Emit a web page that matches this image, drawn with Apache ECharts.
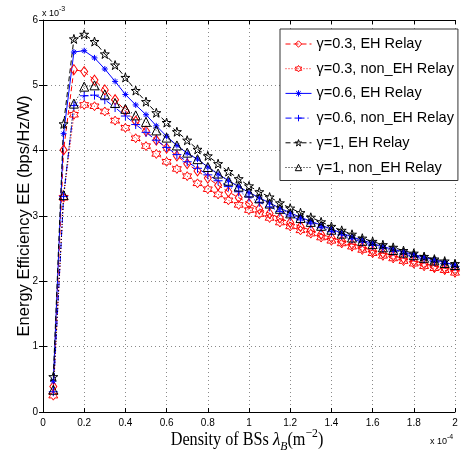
<!DOCTYPE html>
<html><head><meta charset="utf-8">
<script src="https://cdn.jsdelivr.net/npm/echarts@6/dist/echarts.min.js"></script>
<style>html,body{margin:0;padding:0;background:#fff}#c{width:463px;height:452px}</style>
</head><body><div id="c"></div>
<script>
// Density of BSs (x 10^-4 m^-2)
const xs = [0.05,0.10,0.15,0.20,0.25,0.30,0.35,0.40,0.45,0.50,0.55,0.60,0.65,0.70,0.75,0.80,0.85,0.90,0.95,1.00,
            1.05,1.10,1.15,1.20,1.25,1.30,1.35,1.40,1.45,1.50,1.55,1.60,1.65,1.70,1.75,1.80,1.85,1.90,1.95,2.00];
// Energy efficiency (x 10^-3 bps/Hz/W)
const g03_EH    = [0.39,4.01,5.24,5.21,5.08,4.93,4.78,4.61,4.45,4.30,4.16,4.04,3.92,3.80,3.69,3.58,3.47,3.37,3.28,3.19,
                   3.11,3.04,2.97,2.90,2.84,2.78,2.72,2.67,2.62,2.57,2.52,2.47,2.43,2.39,2.35,2.31,2.27,2.23,2.20,2.17];
const g03_nonEH = [0.25,3.28,4.55,4.70,4.68,4.60,4.46,4.35,4.19,4.07,3.95,3.83,3.72,3.61,3.50,3.41,3.33,3.24,3.17,3.09,
                   3.03,2.97,2.90,2.84,2.78,2.73,2.67,2.62,2.58,2.53,2.48,2.43,2.39,2.35,2.31,2.27,2.23,2.20,2.17,2.13];
const g06_EH    = [0.47,4.26,5.51,5.53,5.42,5.25,5.06,4.86,4.70,4.55,4.38,4.22,4.08,3.96,3.87,3.75,3.64,3.54,3.45,3.36,
                   3.28,3.20,3.12,3.05,2.98,2.92,2.86,2.80,2.74,2.68,2.63,2.58,2.53,2.49,2.45,2.41,2.37,2.33,2.29,2.25];
const g06_nonEH = [0.31,3.30,4.69,4.84,4.85,4.78,4.66,4.53,4.40,4.28,4.16,4.05,3.94,3.83,3.73,3.63,3.54,3.45,3.37,3.29,
                   3.21,3.14,3.07,3.00,2.94,2.88,2.82,2.76,2.71,2.65,2.60,2.55,2.51,2.46,2.42,2.38,2.34,2.30,2.27,2.23];
const g1_EH     = [0.54,4.41,5.71,5.78,5.67,5.48,5.31,5.12,4.92,4.75,4.58,4.43,4.29,4.16,4.02,3.92,3.80,3.68,3.57,3.46,
                   3.37,3.29,3.20,3.12,3.05,2.98,2.91,2.84,2.78,2.72,2.66,2.61,2.56,2.52,2.47,2.43,2.38,2.34,2.31,2.27];
const g1_nonEH  = [0.34,3.32,4.72,4.98,5.00,4.86,4.73,4.64,4.54,4.44,4.31,4.20,4.08,3.97,3.87,3.75,3.65,3.54,3.45,3.36,
                   3.27,3.19,3.11,3.04,2.97,2.91,2.85,2.79,2.73,2.67,2.62,2.57,2.52,2.48,2.44,2.40,2.36,2.32,2.28,2.25];
const seriesNames = ['γ=0.3, EH Relay','γ=0.3, non_EH Relay','γ=0.6, EH Relay','γ=0.6, non_EH Relay','γ=1, EH Relay','γ=1, non_EH Relay'];
const xTicks = {min:0, max:2, interval:0.2};
const yTicks = {min:0, max:6, interval:1};

const SYM_HEX  = 'path://M10,0L12.89,5L18.66,5L15.77,10L18.66,15L12.89,15L10,20L7.11,15L1.34,15L4.23,10L1.34,5L7.11,5Z';
const SYM_STAR = 'path://M10,0L12.25,6.91L19.51,6.91L13.63,11.18L15.88,18.09L10,13.82L4.12,18.09L6.37,11.18L0.49,6.91L7.76,6.91Z';
const SYM_AST  = 'path://M0,10L20,10M10,0L10,20M3,3L17,17M17,3L3,17';
const SYM_PLUS = 'path://M0,10L20,10M10,0L10,20';

function mk(name, ys, color, ltype, symbol, size) {
  return {
    name, type:'line', xAxisIndex:0, yAxisIndex:0,
    data: xs.map((x,i)=>[x, ys[i]]),
    showAllSymbol:true, symbol, symbolSize:size,
    lineStyle:{color, width:1, type:ltype},
    itemStyle:{color:'transparent', borderColor:color, borderWidth:1},
    emphasis:{disabled:true}, animation:false
  };
}

const chart = echarts.init(document.getElementById('c'));
const axisFont = {fontFamily:'Liberation Sans', fontSize:10, color:'#000'};
chart.setOption({
  animation:false,
  grid:{left:43, right:8, top:20, bottom:40},
  legend:{
    data:seriesNames, orient:'vertical', left:280, top:29,
    padding:[7,4,5,5], itemWidth:26, itemHeight:8, itemGap:8.7,
    backgroundColor:'#fff', borderColor:'#333', borderWidth:1,
    lineStyle:{width:1}, itemStyle:{borderWidth:1},
    textStyle:{fontFamily:'Liberation Sans', fontSize:14.5, color:'#000', lineHeight:16}
  },
  xAxis:[
    {type:'value', position:'bottom', ...xTicks,
     axisLine:{show:true, onZero:false, lineStyle:{color:'#000', width:1}},
     axisTick:{show:true, inside:true, length:4, lineStyle:{color:'#000'}},
     axisLabel:{...axisFont, margin:6},
     splitLine:{show:true, lineStyle:{color:'#8a8a8a', type:[1,3], width:1}}},
    {type:'value', position:'top', ...xTicks,
     axisLine:{show:true, onZero:false, lineStyle:{color:'#000', width:1}},
     axisTick:{show:true, inside:true, length:4, lineStyle:{color:'#000'}},
     axisLabel:{show:false}, splitLine:{show:false}}
  ],
  yAxis:[
    {type:'value', position:'left', ...yTicks,
     name:'Energy Efficiency EE (bps/Hz/W)', nameLocation:'middle', nameGap:10, nameMoveOverlap:false,
     nameTextStyle:{fontFamily:'Liberation Sans', fontSize:16.5, color:'#000'},
     axisLine:{show:true, onZero:false, lineStyle:{color:'#000', width:1}},
     axisTick:{show:true, inside:true, length:4, lineStyle:{color:'#000'}},
     axisLabel:{...axisFont, margin:5},
     splitLine:{show:true, lineStyle:{color:'#8a8a8a', type:[1,3], width:1}}},
    {type:'value', position:'right', ...yTicks,
     axisLine:{show:false},
     axisTick:{show:true, inside:true, length:4, lineStyle:{color:'#000'}},
     axisLabel:{show:false}, splitLine:{show:false}}
  ],
  graphic:[
    {type:'text', x:247, y:440, scaleX:0.9, silent:true,
     style:{text:'{t|Density of BSs }{i|λ}{b|B}{t|(m}{p|−2}{t|)}', align:'center', verticalAlign:'middle', fill:'#000',
       rich:{
         t:{fontFamily:'Liberation Serif', fontSize:18, lineHeight:26, verticalAlign:'middle', fill:'#000'},
         i:{fontFamily:'Liberation Serif', fontSize:19, fontStyle:'italic', lineHeight:26, verticalAlign:'middle', fill:'#000'},
         b:{fontFamily:'Liberation Serif', fontSize:13, fontStyle:'italic', lineHeight:26, verticalAlign:'bottom', fill:'#000'},
         p:{fontFamily:'Liberation Serif', fontSize:13, lineHeight:26, verticalAlign:'top', fill:'#000'}
       }}},
    {type:'text', x:42, y:12, silent:true,
     style:{text:'{n|x 10}{s|-3}', align:'left', verticalAlign:'middle', fill:'#000',
       rich:{n:{fontFamily:'Liberation Sans', fontSize:9, lineHeight:13, verticalAlign:'bottom', fill:'#000'},
             s:{fontFamily:'Liberation Sans', fontSize:7, lineHeight:13, verticalAlign:'top', fill:'#000'}}}},
    {type:'text', x:430, y:440, silent:true,
     style:{text:'{n|x 10}{s|-4}', align:'left', verticalAlign:'middle', fill:'#000',
       rich:{n:{fontFamily:'Liberation Sans', fontSize:9, lineHeight:13, verticalAlign:'bottom', fill:'#000'},
             s:{fontFamily:'Liberation Sans', fontSize:7, lineHeight:13, verticalAlign:'top', fill:'#000'}}}}
  ],
  series:[
    mk(seriesNames[0], g03_EH,    '#ff0000', [5,3],       'diamond', [7,10]),
    mk(seriesNames[1], g03_nonEH, '#ff0000', [1,2],       SYM_HEX,   9),
    mk(seriesNames[2], g06_EH,    '#0000ff', 'solid',     SYM_AST,   6),
    mk(seriesNames[3], g06_nonEH, '#0000ff', [6,3,1,3],   SYM_PLUS,  9),
    mk(seriesNames[4], g1_EH,     '#000000', [5,3],       SYM_STAR,  9),
    mk(seriesNames[5], g1_nonEH,  '#000000', [1,2],       'triangle', 9)
  ]
});
</script>
</body></html>
